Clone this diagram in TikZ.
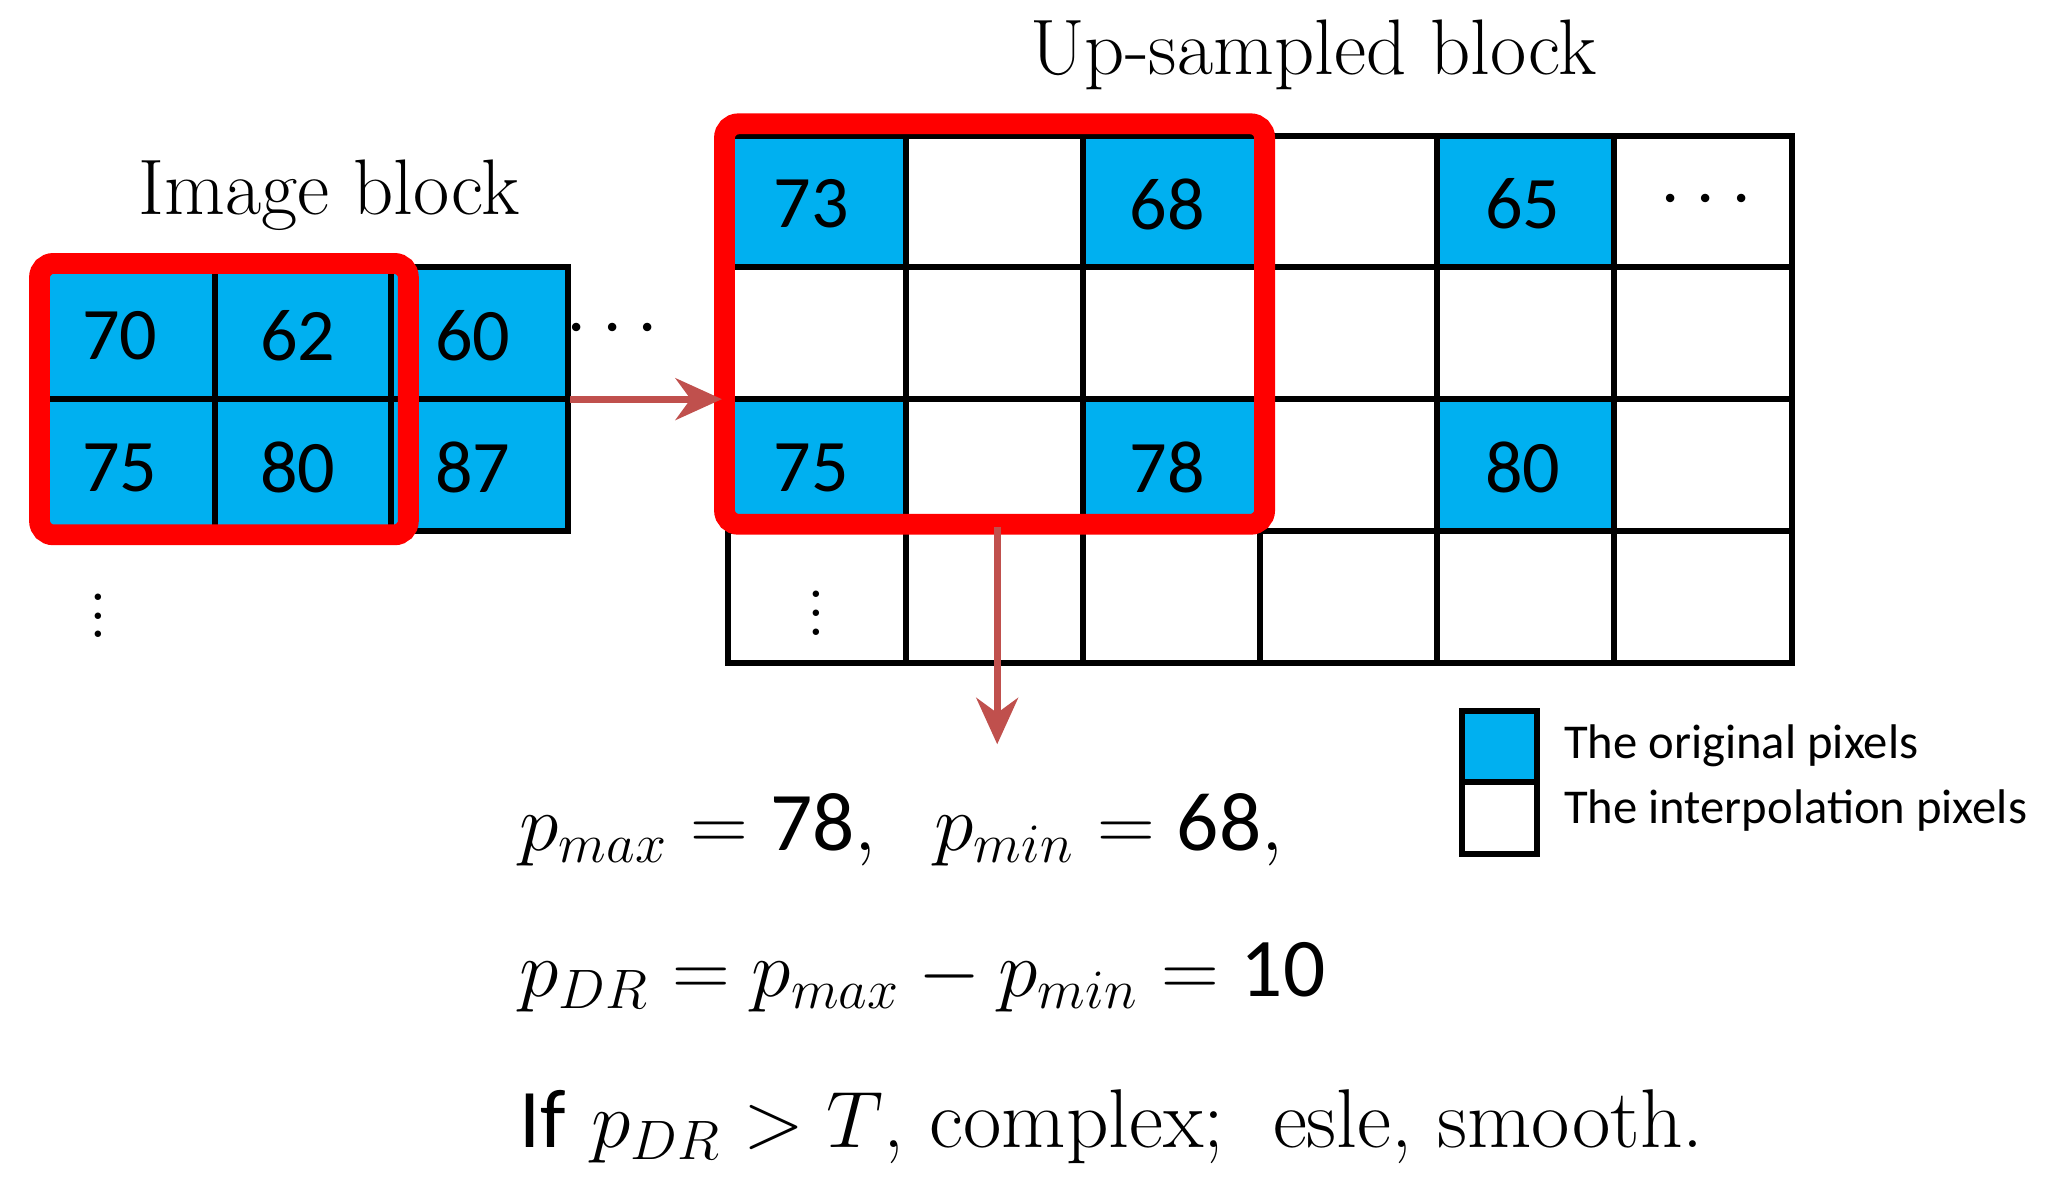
\documentclass[tikz,border=0pt]{standalone}
\usepackage{fontspec}
\newfontfamily\calib{Carlito}
\usetikzlibrary{arrows.meta}
\definecolor{cy}{HTML}{00B0F0}
\definecolor{ar}{HTML}{C0504D}
\begin{document}
\begin{tikzpicture}[x=0.01cm,y=-0.01cm,
 cellb/.style={draw=black,line width=1.3pt,fill=cy},
 cellw/.style={draw=black,line width=1.3pt,fill=white},
 num/.style={font=\calib\fontsize{16}{16}\selectfont,anchor=west},
 redbox/.style={draw=red,line width=4.5pt,rounded corners=3pt},
 conn/.style={draw=ar,line width=1.5pt,-{Stealth[length=10pt,width=9pt]}},
 dots/.style={font=\fontsize{17}{17}\selectfont,inner sep=0pt},
 lab/.style={font=\fontsize{17}{17}\selectfont}]
\useasboundingbox (0,0) rectangle (1560,895);
% image block
\foreach \x/\w in {30/133,163/134,297/134}{\foreach \y in {203,303}{\draw[cellb] (\x,\y) rectangle ++(\w,100);}}
\node[num] (a1) at (50,255) {70};
\node[num] (a2) at (185,255) {62};
\node[num] (a3) at (318,255) {60};
\node[num] (a4) at (50,355) {75};
\node[num] (a5) at (185,355) {80};
\node[num] (a6) at (318,355) {87};
\node[dots] (hd) at (465,250) {$\cdots$};
\node[dots] (vd) at (75,457) {$\vdots$};
\draw[redbox] (30,200) rectangle (310,406);
\node[lab] (t1) at (250,148) {Image block};
% up-sampled
\foreach \c in {0,...,5}{\foreach \r in {0,...,3}{\draw[cellw] (553+134.5*\c,103+100*\r) rectangle ++(134.5,100);}}
\foreach \c/\r in {0/0,2/0,4/0,0/2,2/2,4/2}{\draw[cellb] (553+134.5*\c,103+100*\r) rectangle ++(134.5,100);}
\node[num] (b1) at (575,155) {73};
\node[num] (b2) at (845,155) {68};
\node[num] (b3) at (1115,155) {65};
\node[num] (b4) at (575,355) {75};
\node[num] (b5) at (845,355) {78};
\node[num] (b6) at (1115,355) {80};
\node[dots] (hd2) at (1295,152) {$\cdots$};
\node[dots] (vd2) at (620,455) {$\vdots$};
\draw[redbox] (550,94) rectangle (960,398);
\node[lab] (t2) at (997,42) {Up-sampled block};
% arrows
\coordinate (s1) at (433,303); \coordinate (e1) at (548,303);
\draw[conn] (s1) -- (e1);
\coordinate (s2) at (757,400); \coordinate (e2) at (757,565);
\draw[conn] (s2) -- (e2);
% legend
\draw[cellb] (1110,540) rectangle (1167,594);
\draw[cellw] (1110,594) rectangle (1167,648);
\node[font=\calib\fontsize{10.5}{10.5}\selectfont,anchor=west] (l1) at (1175,566) {The original pixels};
\node[font=\calib\fontsize{10.5}{10.5}\selectfont,anchor=west] (l2) at (1175,615) {The interpolation pixels};
% equations
\node[anchor=west,font=\fontsize{18}{18}\selectfont] (q1) at (382,630) {$p_{max}=\hbox{\calib 78},\;\; p_{min}=\hbox{\calib 68},$};
\node[anchor=west,font=\fontsize{18}{18}\selectfont] (q2) at (382,742) {$p_{DR}=p_{max}-p_{min}=\hbox{\calib 10}$};
\node[anchor=west,font=\fontsize{18}{18}\selectfont] (q3) at (382,855) {{\calib If} $p_{DR}>T$, complex;\; esle, smooth.};
\end{tikzpicture}
\end{document}
